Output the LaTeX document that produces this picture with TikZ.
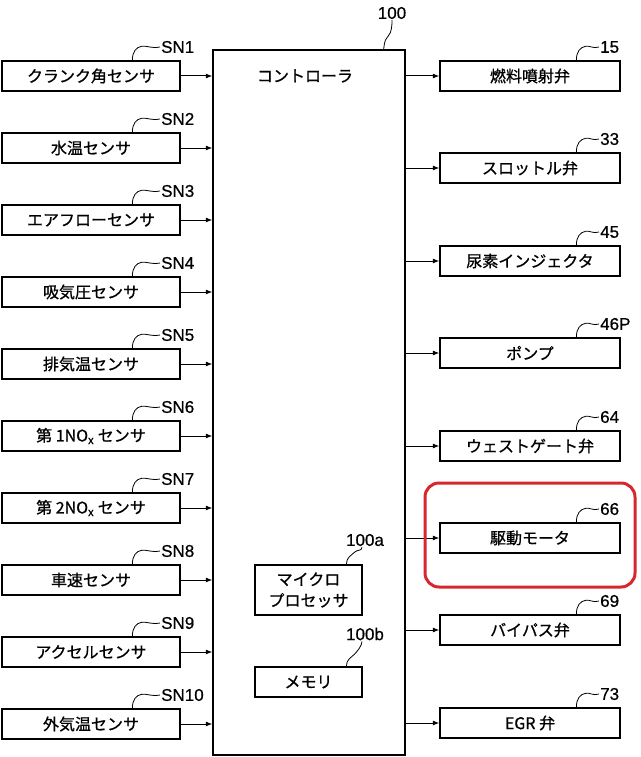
\documentclass[tikz,border=0pt]{standalone}
\usepackage{fontspec}
\setmainfont{Noto Sans CJK JP}[FakeBold=0.8]
\newfontfamily\numfont{Liberation Sans}[FakeBold=0.6]
\usepackage{tikz}
\usetikzlibrary{arrows.meta,positioning,calc}
\definecolor{hlred}{HTML}{D8262E}

\begin{document}
\begin{tikzpicture}[x=1pt,y=1pt,font=\fontsize{16}{19}\selectfont,
  box/.style={draw,line width=1.3pt,minimum width=178,minimum height=30,inner sep=0pt},
  num/.style={font=\numfont\fontsize{17}{19}\selectfont,inner sep=1pt},
  arr/.style={line width=1pt,-{Latex[length=6.5pt,width=5pt]}},
  lead/.style={line width=0.8pt}]
\useasboundingbox (0,0) rectangle (640,-757);
% controller
\node[draw,line width=1.3pt,minimum width=192,minimum height=705,inner sep=0pt] (ctrl) at (309,-402.5) {};
\node (ttl) at (305,-76) {コントローラ};
\node[num] (n100) at (392,-13) {100};
\draw[lead] ([xshift=-22pt]ctrl.north east) .. controls +(1,9) and +(-3,-3) .. ++(5,14) .. controls +(3,3) and +(0,-5) .. (n100.south);
% sensors
\foreach \i/\y/\lab in {1/76/クランク角センサ,2/148/水温センサ,3/220/エアフローセンサ,4/292/吸気圧センサ,5/364/排気温センサ,6/436/第 1NO\textsubscript{x} センサ,7/508/第 2NO\textsubscript{x} センサ,8/580/車速センサ,9/652/アクセルセンサ,10/724/外気温センサ}{
  \node[box] (s\i) at (91,-\y) {\lab};
  \node[num,anchor=west] (sn\i) at (160,{29-\y}) {SN\i};
  \draw[lead] ([xshift=131pt]s\i.north west) .. controls +(0,9) and +(-5,-1) .. ++(9,14) .. controls +(5,1) and +(-6,-2) .. (sn\i.west);
  \draw[arr] (s\i) -- (s\i -| ctrl.west);
}
% actuators
\foreach \i/\y/\lab in {15/76/燃料噴射弁,33/168/スロットル弁,45/261/尿素インジェクタ,46P/353/ポンプ,64/446/ウェストゲート弁,66/538/駆動モータ,69/630/バイパス弁,73/723/EGR 弁}{
  \node[box,minimum width=180] (a\i) at (530,-\y) {\lab};
  \node[num,anchor=west] (an\i) at (599,{29-\y}) {\i};
  \draw[lead] ([xshift=137pt]a\i.north west) .. controls +(0,9) and +(-5,-1) .. ++(9,14) .. controls +(5,1) and +(-6,-2) .. (an\i.west);
  \draw[arr] (a\i -| ctrl.east) -- (a\i);
}
\draw[hlred,line width=3pt,rounded corners=14pt] (425,-483) rectangle (635,-587);
% inside controller
\node[box,minimum width=107,minimum height=50,align=center,font=\fontsize{16}{21}\selectfont] (mpu) at (308.5,-590) {マイクロ\\プロセッサ};
\node[box,minimum width=107] (mem) at (308.5,-682) {メモリ};
\node[num] (n100a) at (365,-540) {100a};
\node[num] (n100b) at (365,-634) {100b};
\draw[lead] ([xshift=92pt]mpu.north west) .. controls +(0,7) and +(-3,-3) .. ++(8,12) .. controls +(3,3) and +(0,-4) .. ([xshift=-3pt]n100a.south);
\draw[lead] ([xshift=92pt]mem.north west) .. controls +(0,7) and +(-3,-3) .. ++(8,12) .. controls +(3,3) and +(0,-4) .. ([xshift=-3pt]n100b.south);
\end{tikzpicture}
\end{document}
